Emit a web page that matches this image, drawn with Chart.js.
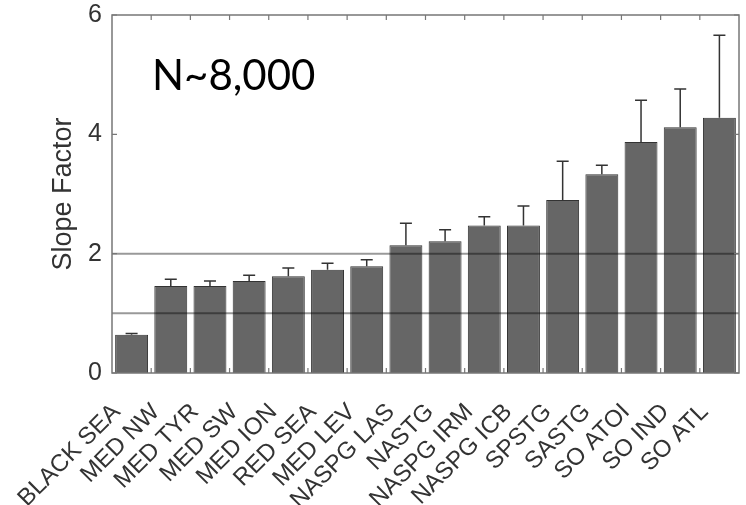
<!DOCTYPE html>
<html>
<head>
<meta charset="utf-8">
<script src="https://cdn.jsdelivr.net/npm/chart.js@4.4.0/dist/chart.umd.min.js"></script>
<style>
  html, body { margin: 0; padding: 0; background: #fff; }
  #wrap { width: 746px; height: 505px; }
</style>
</head>
<body>
<div id="wrap"><canvas id="slope"></canvas></div>
<script>
// data
const categories = ['BLACK SEA', 'MED NW', 'MED TYR', 'MED SW', 'MED ION', 'RED SEA', 'MED LEV',
    'NASPG LAS', 'NASTG', 'NASPG IRM', 'NASPG ICB', 'SPSTG', 'SASTG', 'SO ATOI', 'SO IND', 'SO ATL'];
const slopeFactor = [0.64, 1.46, 1.46, 1.54, 1.62, 1.73, 1.79, 2.14, 2.21, 2.47, 2.47, 2.90, 3.33, 3.87, 4.12, 4.28];
const errorTop = [0.66, 1.57, 1.54, 1.64, 1.76, 1.84, 1.90, 2.51, 2.40, 2.62, 2.80, 3.55, 3.48, 4.57, 4.76, 5.66];
const yTicks = [0, 2, 4, 6];
const refLines = [1, 2];
const note = 'N~8,000';

const ctx = document.getElementById('slope');

// frame, inward ticks, error bars, reference lines, note
const extras = {
    id: 'extras',
    afterDatasetsDraw(chart) {
        const c = chart.ctx, a = chart.chartArea;
        const x = chart.scales.x, y = chart.scales.y;
        const meta = chart.getDatasetMeta(0);
        c.save();

        // error bars (upper only)
        c.strokeStyle = '#333';
        c.lineWidth = 1.5;
        meta.data.forEach((bar, i) => {
            const yb = y.getPixelForValue(slopeFactor[i]);
            const yt = y.getPixelForValue(errorTop[i]);
            c.beginPath();
            c.moveTo(bar.x, yb);
            c.lineTo(bar.x, yt);
            c.moveTo(bar.x - 6, yt);
            c.lineTo(bar.x + 6, yt);
            c.stroke();
        });

        // reference lines
        c.strokeStyle = 'rgba(0,0,0,0.4)';
        c.lineWidth = 2;
        refLines.forEach(v => {
            const py = y.getPixelForValue(v);
            c.beginPath();
            c.moveTo(a.left, py);
            c.lineTo(a.right, py);
            c.stroke();
        });

        // frame
        c.strokeStyle = '#777';
        c.lineWidth = 1.5;
        c.strokeRect(a.left, a.top, a.right - a.left, a.bottom - a.top);

        // inward ticks at category boundaries
        const step = x.getPixelForValue(1) - x.getPixelForValue(0);
        c.lineWidth = 1.2;
        for (let i = 1; i < categories.length; i++) {
            const px = x.getPixelForValue(i) - step / 2;
            c.beginPath();
            c.moveTo(px, a.top); c.lineTo(px, a.top + 5);
            c.moveTo(px, a.bottom); c.lineTo(px, a.bottom - 5);
            c.stroke();
        }
        yTicks.forEach(v => {
            const py = y.getPixelForValue(v);
            c.beginPath();
            c.moveTo(a.left, py); c.lineTo(a.left + 5, py);
            c.moveTo(a.right, py); c.lineTo(a.right - 5, py);
            c.stroke();
        });

        // note
        c.fillStyle = '#000';
        c.font = '42px Lato';
        c.textBaseline = 'alphabetic';
        c.fillText(note, a.left + 40, y.getPixelForValue(4.75));
        c.restore();
    }
};

new Chart(ctx, {
    type: 'bar',
    data: {
        labels: categories,
        datasets: [{
            data: slopeFactor,
            backgroundColor: '#666',
            borderColor: '#333',
            borderWidth: 1,
            categoryPercentage: 1,
            barPercentage: 0.84
        }]
    },
    options: {
        responsive: true,
        maintainAspectRatio: false,
        animation: false,
        layout: { padding: { top: 15, right: 7, left: 0, bottom: 0 } },
        plugins: { legend: { display: false }, tooltip: { enabled: false } },
        scales: {
            x: {
                grid: { display: false, drawTicks: false },
                border: { display: false },
                ticks: {
                    color: '#333',
                    font: { family: 'Liberation Sans', size: 24 },
                    maxRotation: 45, minRotation: 45,
                    autoSkip: false,
                    padding: 25,
                    labelOffset: -15
                },
                afterFit(s) { s.height = 132; s.paddingLeft = 0; s.paddingRight = 0; }
            },
            y: {
                min: 0, max: 6,
                grid: { display: false, drawTicks: false },
                border: { display: false },
                afterBuildTicks(s) { s.ticks = yTicks.map(v => ({ value: v })); },
                ticks: {
                    color: '#333',
                    font: { family: 'Liberation Sans', size: 25 },
                    padding: 10
                },
                title: {
                    display: true,
                    text: 'Slope Factor',
                    color: '#333',
                    font: { family: 'Liberation Sans', size: 27 },
                    padding: { top: 47, bottom: 0 }
                },
                afterFit(s) { s.width = 112; s.paddingTop = 0; s.paddingBottom = 0; }
            }
        }
    },
    plugins: [extras]
});
</script>
</body>
</html>
